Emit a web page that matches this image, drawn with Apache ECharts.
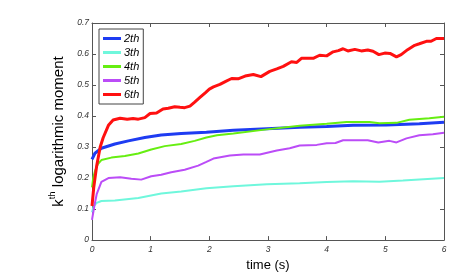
<!DOCTYPE html>
<html><head><meta charset="utf-8">
<script src="https://cdn.jsdelivr.net/npm/echarts@6/dist/echarts.min.js"></script>
<style>html,body{margin:0;padding:0;background:#fff}#c{width:463px;height:277px}</style>
</head><body><div id="c"></div>
<script>
var xTicks = [0, 1, 2, 3, 4, 5, 6];
var yTicks = [0, 0.1, 0.2, 0.3, 0.4, 0.5, 0.6, 0.7];
var seriesNames = ['2th', '3th', '4th', '5th', '6th'];

var t2 = [0, 0.05, 0.16, 0.39, 0.62, 0.9, 1.18, 1.52, 1.95, 2.41, 2.98, 3.54, 4.0, 4.45, 5.02, 5.58, 6.0];
var v2 = [0.26, 0.28, 0.296, 0.31, 0.32, 0.331, 0.339, 0.344, 0.348, 0.354, 0.359, 0.364, 0.366, 0.37, 0.371, 0.375, 0.38];

var t3 = [0, 0.03, 0.08, 0.16, 0.39, 0.79, 1.18, 1.52, 1.95, 2.41, 2.98, 3.54, 4.0, 4.45, 4.9, 5.3, 6.0];
var v3 = [0.09, 0.11, 0.12, 0.126, 0.128, 0.136, 0.15, 0.157, 0.167, 0.174, 0.18, 0.183, 0.187, 0.19, 0.188, 0.192, 0.2];

var t4 = [0, 0.02, 0.05, 0.1, 0.16, 0.33, 0.56, 0.79, 1.01, 1.24, 1.52, 1.75, 1.95, 2.13, 2.41, 2.98, 3.54, 4.0, 4.34, 4.73, 4.9, 5.19, 5.41, 5.75, 6.0];
var v4 = [0.17, 0.2, 0.222, 0.245, 0.258, 0.266, 0.271, 0.279, 0.292, 0.303, 0.31, 0.32, 0.331, 0.338, 0.344, 0.357, 0.369, 0.375, 0.381, 0.381, 0.377, 0.378, 0.388, 0.393, 0.398];

var t5 = [0, 0.04, 0.08, 0.16, 0.28, 0.48, 0.67, 0.84, 1.01, 1.18, 1.35, 1.58, 1.81, 1.95, 2.07, 2.35, 2.58, 2.86, 3.15, 3.37, 3.54, 3.83, 4.0, 4.15, 4.28, 4.45, 4.7, 4.88, 5.07, 5.19, 5.36, 5.58, 5.81, 6.0];
var v5 = [0.065, 0.11, 0.148, 0.188, 0.2, 0.203, 0.198, 0.195, 0.206, 0.211, 0.219, 0.227, 0.24, 0.252, 0.263, 0.273, 0.276, 0.276, 0.289, 0.296, 0.305, 0.307, 0.312, 0.313, 0.322, 0.322, 0.322, 0.315, 0.32, 0.315, 0.328, 0.338, 0.341, 0.346];

var t6 = [0, 0.03, 0.08, 0.14, 0.19, 0.28, 0.36, 0.48, 0.6, 0.7, 0.79, 0.9, 0.99, 1.1, 1.21, 1.3, 1.41, 1.5, 1.58, 1.67, 1.75, 1.84, 1.93, 2.0, 2.07, 2.18, 2.28, 2.38, 2.49, 2.61, 2.75, 2.88, 3.03, 3.15, 3.26, 3.4, 3.49, 3.57, 3.67, 3.77, 3.88, 4.0, 4.11, 4.2, 4.28, 4.36, 4.48, 4.59, 4.7, 4.79, 4.89, 4.99, 5.08, 5.19, 5.27, 5.38, 5.5, 5.58, 5.7, 5.78, 5.87, 6.0];
var v6 = [0.11, 0.17, 0.24, 0.3, 0.33, 0.37, 0.387, 0.393, 0.39, 0.392, 0.39, 0.395, 0.408, 0.41, 0.423, 0.425, 0.43, 0.428, 0.427, 0.432, 0.445, 0.46, 0.475, 0.487, 0.494, 0.502, 0.512, 0.521, 0.52, 0.529, 0.534, 0.527, 0.544, 0.552, 0.56, 0.575, 0.573, 0.586, 0.586, 0.586, 0.596, 0.594, 0.607, 0.611, 0.617, 0.61, 0.615, 0.61, 0.613, 0.609, 0.598, 0.603, 0.602, 0.591, 0.598, 0.614, 0.628, 0.633, 0.641, 0.641, 0.65, 0.65];

function pairs(t, v) { return t.map(function (x, i) { return [x, v[i]]; }); }
var allT = [t2, t3, t4, t5, t6], allV = [v2, v3, v4, v5, v6];
var colors = ['#1e3cf2', '#6ff7dc', '#66ee11', '#bb4cf7', '#ff1010'];
var widths = [3, 2, 2, 2, 3];

var axisCol = '#555';
var font = 'Liberation Sans, Arial, sans-serif';
function xAx(pos, labels) {
  return {
    type: 'value', position: pos, min: xTicks[0], max: xTicks[xTicks.length - 1], interval: 1,
    axisLine: { show: true, onZero: false, lineStyle: { color: axisCol, width: 1 } },
    axisTick: { show: true, inside: true, length: 4, lineStyle: { color: axisCol } },
    splitLine: { show: false },
    axisLabel: { show: labels, fontSize: 8.5, fontStyle: 'italic', color: '#333', fontFamily: font, margin: 5 },
    name: labels ? 'time (s)' : '', nameLocation: 'middle', nameGap: 17,
    nameTextStyle: { fontSize: 13, color: '#000', fontFamily: font }
  };
}
function yAx(pos, labels) {
  return {
    type: 'value', position: pos, min: yTicks[0], max: yTicks[yTicks.length - 1], interval: 0.1,
    axisLine: { show: true, onZero: false, lineStyle: { color: axisCol, width: 1 } },
    axisTick: { show: true, inside: true, length: 4, lineStyle: { color: axisCol } },
    splitLine: { show: false },
    axisLabel: { show: labels, fontSize: 8.5, fontStyle: 'italic', color: '#333', fontFamily: font, margin: 3,
      formatter: function (v) { return v === 0 ? '0' : String(+v.toFixed(1)); } },
    name: labels ? '{k|k}{s|th}{k| logarithmic moment}' : '', nameLocation: 'middle', nameGap: 19, nameRotate: 90,
    nameTextStyle: { fontFamily: font, color: '#000',
      rich: { k: { fontSize: 15, fontFamily: font, color: '#000', verticalAlign: 'bottom', lineHeight: 19 },
              s: { fontSize: 9.5, fontFamily: font, color: '#000', verticalAlign: 'top', lineHeight: 19 } } }
  };
}

var chart = echarts.init(document.getElementById('c'), null, { renderer: 'canvas' });
chart.setOption({
  animation: false,
  backgroundColor: '#fff',
  grid: { left: 92, right: 19, top: 23, bottom: 30 },
  xAxis: [xAx('bottom', true), xAx('top', false)],
  yAxis: [yAx('left', true), yAx('right', false)],
  legend: {
    orient: 'vertical', left: 99, top: 29,
    data: seriesNames,
    icon: 'rect', itemWidth: 18, itemHeight: 3, itemGap: 3,
    padding: [4, 4, 4, 4],
    backgroundColor: '#fff', borderColor: '#444', borderWidth: 1, borderRadius: 0,
    textStyle: { fontSize: 11, fontStyle: 'italic', color: '#000', fontFamily: font, padding: [0, 0, 0, -2] }
  },
  series: seriesNames.map(function (n, i) {
    return {
      name: n, type: 'line', xAxisIndex: 0, yAxisIndex: 0,
      data: pairs(allT[i], allV[i]), showSymbol: false, symbol: 'none',
      lineStyle: { color: colors[i], width: widths[i] }, itemStyle: { color: colors[i] },
      z: 2 + i
    };
  })
});
</script></body></html>
